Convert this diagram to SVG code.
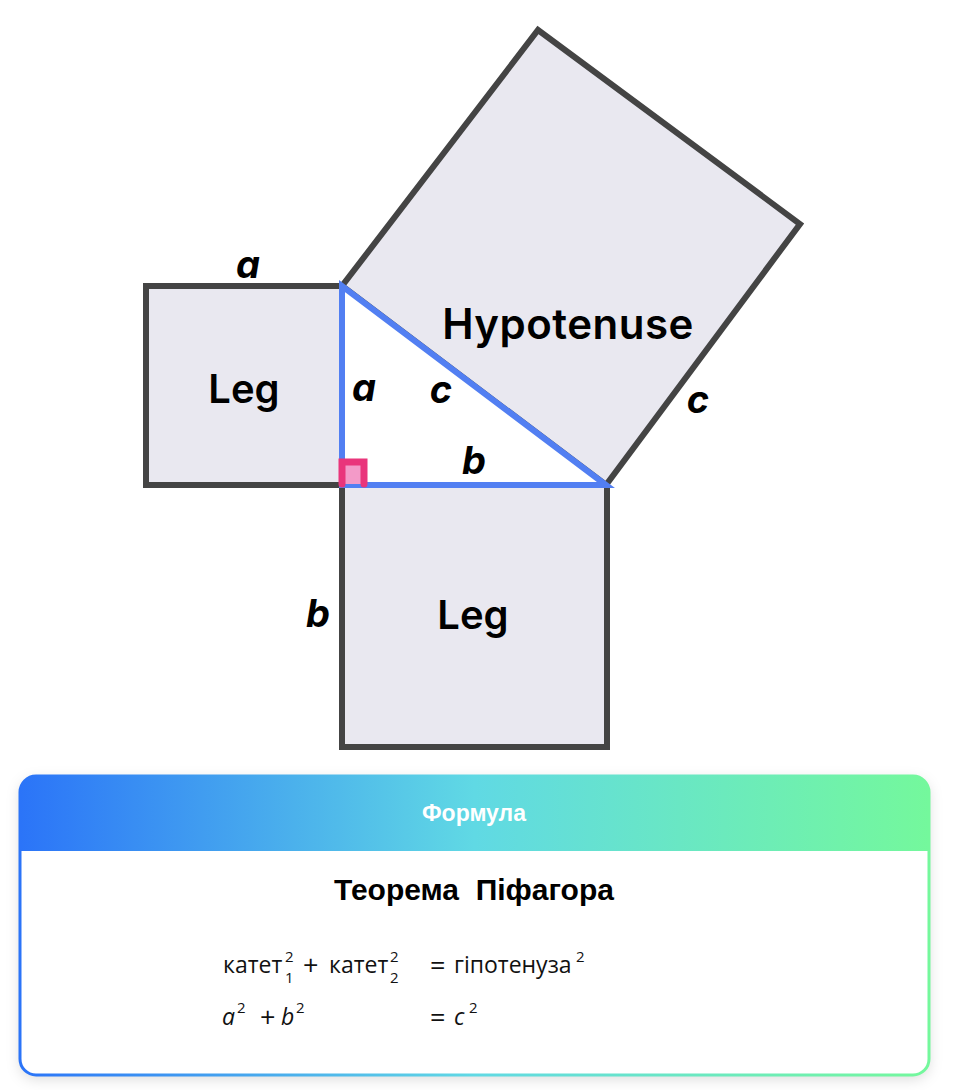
<svg xmlns="http://www.w3.org/2000/svg" width="980" height="1090" viewBox="0 0 980 1090">
<defs>
<linearGradient id="grad" x1="0" y1="0" x2="1" y2="0">
<stop offset="0" stop-color="#2b74f8"/>
<stop offset="0.5" stop-color="#60d9e4"/>
<stop offset="1" stop-color="#74f89c"/>
</linearGradient>
<linearGradient id="gradB" gradientUnits="userSpaceOnUse" x1="20" y1="0" x2="929" y2="0">
<stop offset="0" stop-color="#2b74f8"/>
<stop offset="0.5" stop-color="#60d9e4"/>
<stop offset="1" stop-color="#74f89c"/>
</linearGradient>
<filter id="shadow" x="-5%" y="-10%" width="110%" height="125%">
<feDropShadow dx="0" dy="4" stdDeviation="7" flood-color="#000" flood-opacity="0.14"/>
</filter>
<style>
.sq{fill:#e9e8f0;stroke:#444;stroke-width:6;stroke-linejoin:miter}
.lbl{font-family:Inter,"Noto Sans",sans-serif;font-weight:600;fill:#000;text-anchor:middle}
.var{font-family:Inter,"Noto Sans",sans-serif;font-weight:700;font-style:italic;fill:#000;text-anchor:middle;font-size:38px}
.fm{font-family:"Open Sans","Noto Sans",sans-serif;font-size:23px;fill:#111}
.fi{font-style:italic}
.sup{font-size:15px}
.op{font-size:27px}
</style>
</defs>

<g id="square-a">
<rect class="sq" x="146" y="286" width="196" height="199"/>
<text class="lbl" x="244" y="403" font-size="40">Leg</text>
</g>
<g id="square-b">
<rect class="sq" x="342" y="485" width="265" height="262"/>
<text class="lbl" x="473" y="629" font-size="40">Leg</text>
</g>
<g id="square-c">
<polygon class="sq" points="342,286 606,485 800,224 538,30"/>
<text class="lbl" x="568" y="339" font-size="42" letter-spacing="0.5">Hypotenuse</text>
</g>
<g id="triangle">
<polygon points="342,286 342,485 606,485" fill="#fff" stroke="#527ff2" stroke-width="6" stroke-linejoin="miter"/>
<path d="M342,484 V462 H364 V484" fill="#f39ac8" stroke="#e9357b" stroke-width="7" stroke-linecap="round" stroke-linejoin="miter"/>
</g>
<g id="labels">
<text class="var" x="248" y="278">a</text>
<text class="var" x="364" y="401">a</text>
<text class="var" x="441" y="403">c</text>
<text class="var" x="698" y="413">c</text>
<text class="var" x="474" y="474">b</text>
<text class="var" x="318" y="627">b</text>
</g>

<g id="formula-box">
<rect x="20" y="776" width="909" height="299" rx="16" fill="#fff" filter="url(#shadow)"/>
<path d="M20,851 V792 A16,16 0 0 1 36,776 H913 A16,16 0 0 1 929,792 V851 Z" fill="url(#grad)"/>
<rect x="20" y="776" width="909" height="299" rx="16" fill="none" stroke="url(#gradB)" stroke-width="3"/>
<text x="474" y="821" font-family="'Liberation Sans',Arial,sans-serif" font-weight="700" font-size="23" fill="#fff" text-anchor="middle">Формула</text>
<text x="474" y="900" font-family="'Liberation Sans',Arial,sans-serif" font-weight="700" font-size="30" fill="#000" text-anchor="middle" xml:space="preserve">Теорема  Піфагора</text>
<text class="fm" x="223" y="973">катет</text>
<text class="fm sup" x="285" y="962">2</text>
<text class="fm sup" x="285" y="983">1</text>
<text class="fm op" x="303" y="975">+</text>
<text class="fm" x="329" y="973">катет</text>
<text class="fm sup" x="390" y="962">2</text>
<text class="fm sup" x="390" y="983">2</text>
<text class="fm op" x="430" y="975">=</text>
<text class="fm" x="454" y="973">гіпотенуза</text>
<text class="fm sup" x="576" y="962">2</text>
<text class="fm fi" x="222" y="1025">a</text>
<text class="fm sup" x="237" y="1013">2</text>
<text class="fm op" x="260" y="1027">+</text>
<text class="fm fi" x="281" y="1025">b</text>
<text class="fm sup" x="296" y="1013">2</text>
<text class="fm op" x="430" y="1027">=</text>
<text class="fm fi" x="454" y="1025">c</text>
<text class="fm sup" x="469" y="1013">2</text>
</g>
</svg>
